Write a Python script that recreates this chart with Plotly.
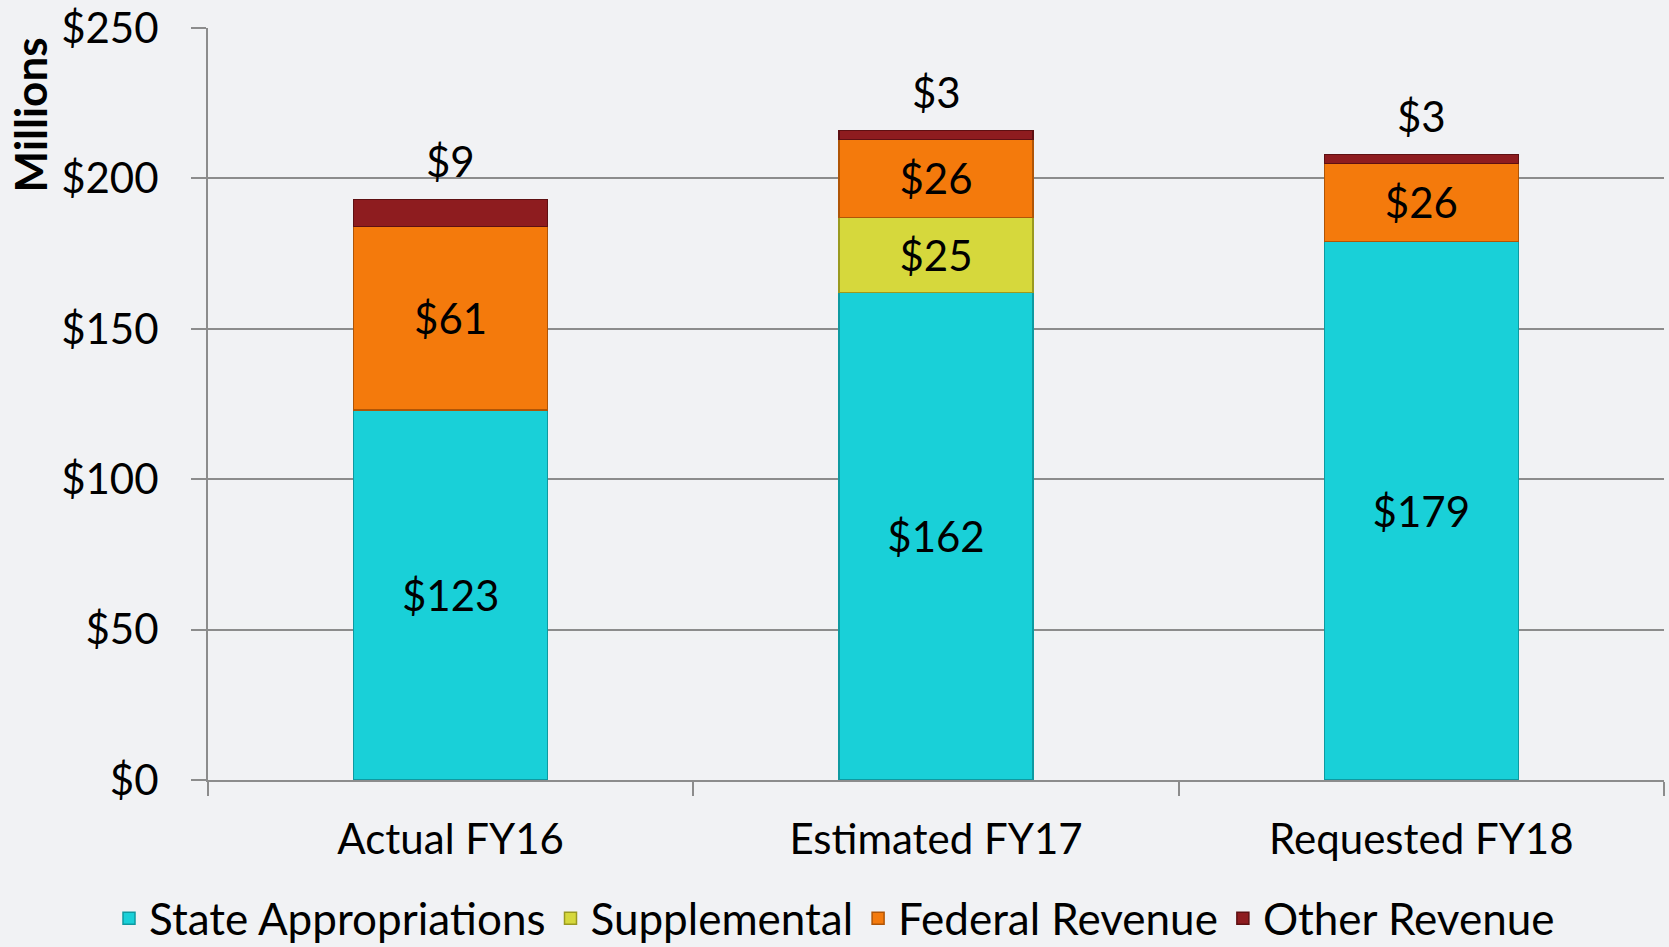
import plotly.graph_objects as go

categories = ["Actual FY16", "Estimated FY17", "Requested FY18"]
state_appropriations = [123, 162, 179]
supplemental = [0, 25, 0]
federal_revenue = [61, 26, 26]
other_revenue = [9, 3, 3]
y_ticks = [0, 50, 100, 150, 200, 250]
y_tick_labels = ["$0", "$50", "$100", "$150", "$200", "$250"]

FONT = "Lato"

series = [
    ("State Appropriations", state_appropriations, "#19D0D8", "#0E9AA1"),
    ("Supplemental", supplemental, "#D6D83C", "#9A9A20"),
    ("Federal Revenue", federal_revenue, "#F47A0C", "#B05506"),
    ("Other Revenue", other_revenue, "#8E1C1F", "#5E1012"),
]

fig = go.Figure()
for i, (name, vals, col, edge) in enumerate(series):
    top = i == len(series) - 1
    texts = [f"${v}" if (v and not top) else "" for v in vals]
    fig.add_trace(go.Bar(
        name=name, x=categories, y=vals,
        marker=dict(color=col, line=dict(color=edge, width=1.5)),
        text=texts,
        textposition="inside",
        insidetextanchor="middle",
        textfont=dict(family=FONT, size=42, color="black"),
        insidetextfont=dict(family=FONT, size=42, color="black"),
        cliponaxis=False,
        hoverinfo="skip",
    ))

# labels for the top (Other Revenue) segment, placed above each stack
totals = [a + b + c + d for a, b, c, d in zip(state_appropriations, supplemental, federal_revenue, other_revenue)]
for cat, tot, v in zip(categories, totals, other_revenue):
    fig.add_annotation(
        x=cat, y=tot, text=f"${v}", showarrow=False,
        yanchor="bottom", yshift=11,
        font=dict(family=FONT, size=42, color="black"),
    )

fig.update_layout(
    barmode="stack",
    bargap=0.6,
    width=1669, height=947,
    margin=dict(l=208, r=5, t=28, b=167, autoexpand=False),
    paper_bgcolor="#F1F2F4",
    plot_bgcolor="#F1F2F4",
    font=dict(family=FONT, size=38, color="black"),
    showlegend=True,
    legend=dict(
        orientation="h", x=0.5, xanchor="center", xref="container",
        y=0.03, yanchor="middle", yref="container",
        traceorder="normal",
        font=dict(family=FONT, size=44, color="black"),
        itemwidth=30, tracegroupgap=0,
        bgcolor="rgba(0,0,0,0)",
    ),
    xaxis=dict(
        type="category",
        tickson="boundaries",
        automargin=False,
        ticks="outside", ticklen=14, tickcolor="#8C8C8C", tickwidth=2,
        showline=True, linecolor="#8C8C8C", linewidth=2,
        showgrid=False,
        tickfont=dict(family=FONT, size=42, color="black"),
        ticklabelstandoff=22,
    ),
    yaxis=dict(
        range=[0, 250],
        automargin=False,
        tickvals=y_ticks, ticktext=y_tick_labels,
        ticks="outside", ticklen=15, tickcolor="#8C8C8C", tickwidth=2,
        showline=True, linecolor="#8C8C8C", linewidth=2,
        showgrid=True, gridcolor="#8C8C8C", gridwidth=1.5,
        zeroline=False,
        tickfont=dict(family=FONT, size=42, color="black"),
        ticklabelstandoff=24,
    ),
)

fig.add_annotation(
    text="<b>Millions</b>", textangle=-90,
    xref="paper", yref="paper", x=-0.122, y=0.99,
    xanchor="center", yanchor="top",
    showarrow=False,
    font=dict(family=FONT, size=44, color="black"),
)

fig.write_html(
    "out.html",
    config={"displayModeBar": False},
    post_script="document.body.style.margin='0';document.body.style.background='#F1F2F4';",
)
